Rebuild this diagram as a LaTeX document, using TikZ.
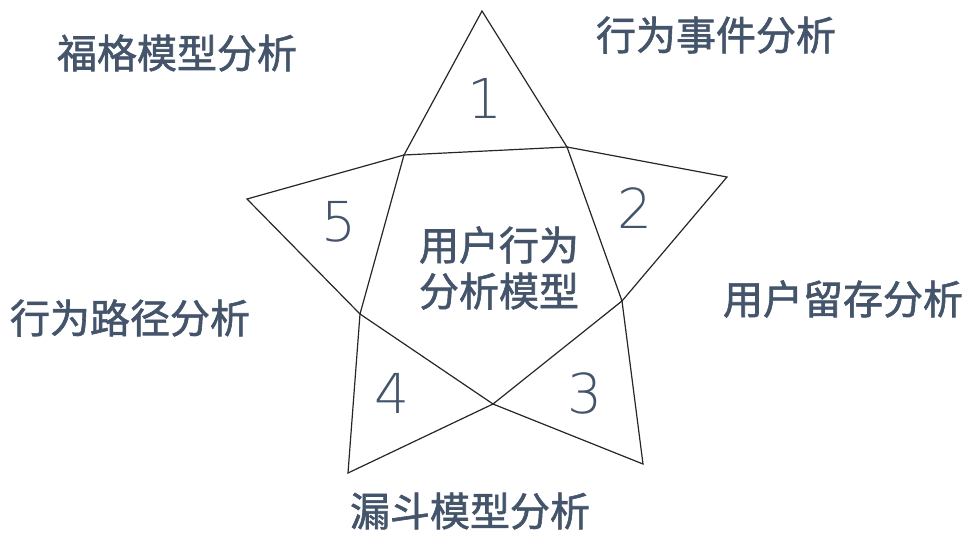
\documentclass[tikz,border=0pt]{standalone}
\usepackage{fontspec}
\newfontfamily\cjk[FakeBold=1.5]{Noto Sans CJK SC}
\newfontfamily\digitfont{DejaVu Sans ExtraLight}
\definecolor{txtgray}{RGB}{68,84,106}
\definecolor{linegray}{RGB}{38,38,38}

\begin{document}
\begin{tikzpicture}[x=1pt, y=-1pt,
	lbl/.style={inner sep=0pt, text=txtgray, font=\cjk\fontsize{40}{46}\selectfont},
	num/.style={inner sep=0pt, text=txtgray, font=\digitfont\fontsize{55}{60}\selectfont},
	starline/.style={draw=linegray, line width=1.2pt, line join=miter}]
	\useasboundingbox (0,0) rectangle (976,541);
	% outer points
	\coordinate (P1) at (482,11);
	\coordinate (P2) at (727,177);
	\coordinate (P3) at (643,464);
	\coordinate (P4) at (348,473);
	\coordinate (P5) at (247,199);
	% inner points
	\coordinate (I12) at (567,147);
	\coordinate (I23) at (622,301);
	\coordinate (I34) at (493,404);
	\coordinate (I45) at (360,314);
	\coordinate (I51) at (404,155);
	\draw[starline] (P1) -- (I12) -- (P2) -- (I23) -- (P3) -- (I34) -- (P4) -- (I45) -- (P5) -- (I51) -- cycle;
	\draw[starline] (I51) -- (I12) -- (I23) -- (I34) -- (I45) -- cycle;
	% numbers
	\node[num] (n1) at (485,98) {1};
	\node[num] (n2) at (635,208) {2};
	\node[num] (n3) at (585,393) {3};
	\node[num] (n4) at (392,393) {4};
	\node[num] (n5) at (339,222) {5};
	\node[lbl, align=center] (core) at (499,268) {用户行为\\分析模型};
	% labels
	\node[lbl] (fogg) at (177,53) {福格模型分析};
	\node[lbl] (event) at (716,35) {行为事件分析};
	\node[lbl] (retain) at (843,299) {用户留存分析};
	\node[lbl] (path) at (130,318) {行为路径分析};
	\node[lbl] (funnel) at (470,511) {漏斗模型分析};
\end{tikzpicture}
\end{document}
